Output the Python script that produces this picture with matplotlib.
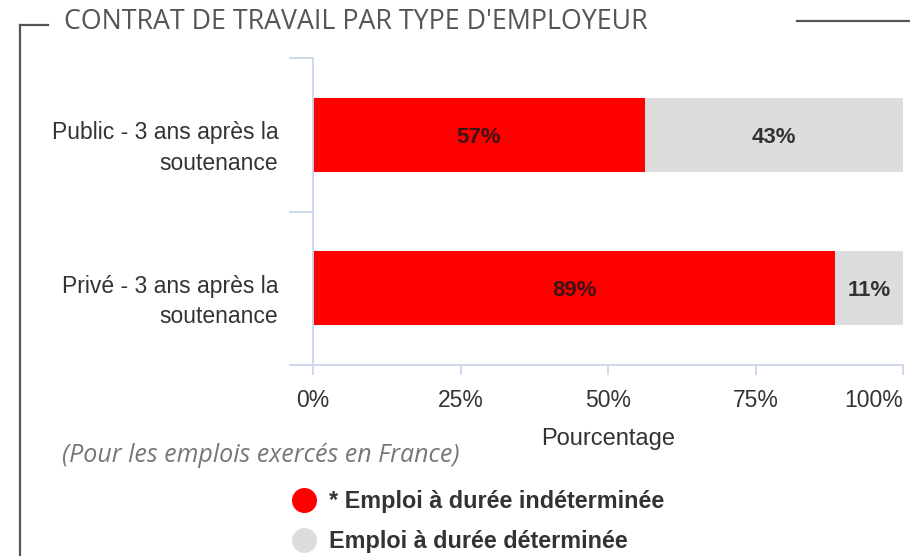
import numpy as np
import matplotlib
matplotlib.use("Agg")
import matplotlib.pyplot as plt
from matplotlib.lines import Line2D

categories = ["Public - 3 ans après la\nsoutenance", "Privé - 3 ans après la\nsoutenance"]
cdi = [56.3, 88.5]
cdd = [43.7, 11.5]
cdi_labels = ["57%", "89%"]
cdd_labels = ["43%", "11%"]
series_names = ["* Emploi à durée indéterminée", "Emploi à durée déterminée"]
xticks = [0, 25, 50, 75, 100]

RED = "#ff0000"
GREY = "#dddddd"
AXIS = "#ccd6eb"

plt.rcParams["font.family"] = ["Liberation Sans", "DejaVu Sans"]

fig = plt.figure(figsize=(9.1, 5.56), dpi=100)
ax = fig.add_axes([313 / 910, 1 - 365 / 556, 590 / 910, 307 / 556])

y = np.arange(len(categories))
ax.barh(y, cdi, height=0.48, color=RED, label=series_names[0])
ax.barh(y, cdd, left=cdi, height=0.48, color=GREY, label=series_names[1])

for i in range(len(categories)):
    ax.text(cdi[i] / 2, y[i], cdi_labels[i], ha="center", va="center_baseline",
            fontsize=16, fontweight="bold", color="#3d1414")
    ax.text(cdi[i] + cdd[i] / 2, y[i], cdd_labels[i], ha="center", va="center_baseline",
            fontsize=16, fontweight="bold", color="#333333")

ax.set_xlim(0, 100)
ax.set_ylim(1.5, -0.5)
ax.set_xticks(xticks)
ax.set_xticklabels([f"{t}%" for t in xticks], fontsize=16.5, color="#333333")
ax.get_xticklabels()[-1].set_ha("right")
# labels sit a little below the bar centre, as in the original
ax.set_yticks(y + 0.046)
ax.set_yticklabels(categories, fontsize=16.5, color="#333333")
for t in ax.get_yticklabels():
    t.set_linespacing(1.4)
ax.set_yticks([-0.5, 0.5, 1.5], minor=True)
ax.tick_params(axis="y", which="major", length=0, pad=25)
ax.tick_params(axis="y", which="minor", length=17, width=1.3, color=AXIS)
ax.tick_params(axis="x", length=7, width=1.3, color=AXIS, pad=10)
ax.set_xlabel("Pourcentage", fontsize=17, color="#333333", labelpad=12)

for s in ["top", "right"]:
    ax.spines[s].set_visible(False)
for s in ["left", "bottom"]:
    ax.spines[s].set_color(AXIS)
    ax.spines[s].set_linewidth(1.3)

# frame round the chart
fig.add_artist(Line2D([20 / 910, 20 / 910], [0, 1 - 25 / 556], color="#555555", lw=1.6))
fig.add_artist(Line2D([20 / 910, 48 / 910], [1 - 25 / 556, 1 - 25 / 556], color="#555555", lw=1.6))
fig.add_artist(Line2D([797 / 910, 1], [1 - 21 / 556, 1 - 21 / 556], color="#555555", lw=1.6))

fig.text(64 / 910, 1 - 22 / 556, "CONTRAT DE TRAVAIL PAR TYPE D'EMPLOYEUR",
         fontsize=19.3, color="#555555", family="Open Sans", va="center", ha="left")
fig.text(62 / 910, 1 - 455 / 556, "(Pour les emplois exercés en France)",
         fontsize=18, color="#777777", family="Open Sans", style="italic",
         va="center", ha="left")

handles = [Line2D([], [], marker="o", ls="", markersize=17, color=c) for c in (RED, GREY)]
leg = fig.legend(handles, series_names, loc="upper left",
                 bbox_to_anchor=(281 / 910, 1 - 481 / 556), frameon=False,
                 prop={"size": 16.8, "weight": "bold"}, handletextpad=0.45,
                 labelspacing=0.7, handlelength=1.2, borderaxespad=0)
for t in leg.get_texts():
    t.set_color("#333333")

fig.savefig("out.png", dpi=100)
